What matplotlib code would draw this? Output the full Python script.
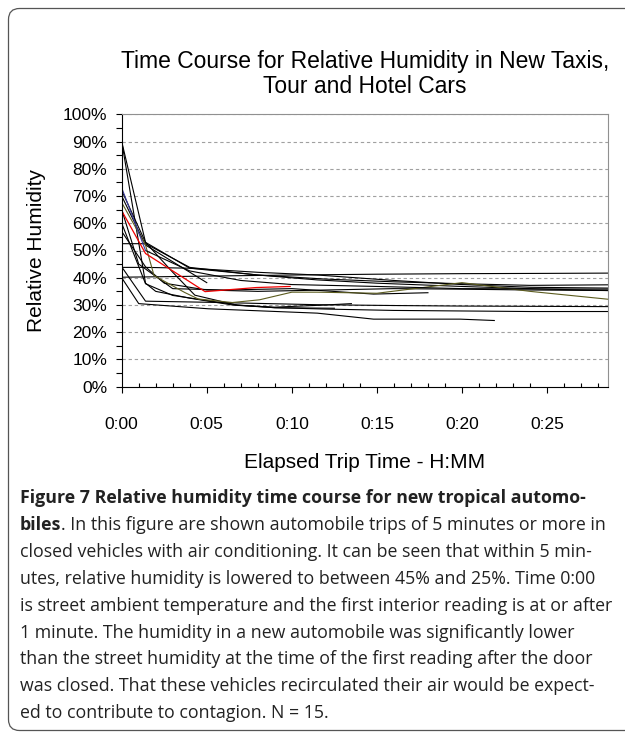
import matplotlib
matplotlib.use("Agg")
import matplotlib.pyplot as plt
from matplotlib.patches import FancyBboxPatch
from matplotlib.transforms import IdentityTransform
from matplotlib.ticker import MultipleLocator

W, H = 625, 732

# elapsed time in minutes, relative humidity in percent (15 trips)
trip_a_t = [0, 1.4, 5, 10, 15, 20, 25, 28.6]
trip_a_rh = [40.2, 40.3, 40.6, 41.0, 41.3, 41.5, 41.6, 41.7]
trip_b_t = [0, 1.4, 4, 8, 12, 16, 20, 24, 28.6]
trip_b_rh = [90, 53, 43.5, 41, 39.5, 38.5, 37.8, 37.2, 37.4]
trip_c_t = [0, 1.4, 2, 4, 6.5, 9, 12, 16, 20, 24, 28.6]
trip_c_rh = [90, 38, 35, 32.5, 30, 29, 28.5, 28, 27.8, 27.6, 27.6]
trip_e_t = [0, 1.4, 5]
trip_e_rh = [70, 52, 38.2]
trip_f_t = [0, 1.4, 4, 8, 11.5, 15, 20, 25, 28.6]
trip_f_rh = [52.5, 52.5, 43.8, 41, 39.2, 38, 36.8, 35.8, 35.3]
trip_g_t = [0, 1.4, 4, 8, 11.5, 16, 20, 24, 28.6]
trip_g_rh = [43.8, 43.8, 43.5, 42, 41, 39, 37.5, 36.5, 36.2]
trip_h_t = [0, 1, 5.1, 11.5, 14.8, 19.9, 21.9]
trip_h_rh = [40, 30.5, 28.6, 27, 24.8, 24.8, 24.3]
trip_i_t = [0, 1.4, 5, 11.5, 16, 20, 28.6]
trip_i_rh = [44, 31.4, 31, 30.1, 29.8, 29.6, 29.4]
trip_j_t = [0, 1.4, 3, 6.8, 9, 12.5]
trip_j_rh = [60, 37.8, 33.5, 30, 29, 28.8]
trip_k_t = [0, 1, 3, 6, 10, 14.8, 18]
trip_k_rh = [65, 45, 36, 35.5, 36, 34, 34.5]
trip_l_t = [0, 1.4, 3, 4.3, 6.8, 9, 12, 13.5]
trip_l_rh = [72, 53, 42, 33.6, 29.9, 29.2, 30, 30.5]
trip_m_t = [0, 1.4, 2.5, 5, 8, 12, 16, 20, 24, 28.6]
trip_m_rh = [57, 44, 38, 35.5, 35, 35.5, 36, 35.8, 35.5, 35.3]
blue_t = [0, 1.4, 4, 7, 10, 15, 20, 28.6]
blue_rh = [73, 50, 42.5, 39, 37.5, 36.8, 36, 35.8]
olive_t = [0, 1.4, 1.9, 3.7, 4.5, 6.5, 8.1, 10, 11.5, 15, 20, 24, 28.6]
olive_rh = [67.6, 52, 40.8, 34.6, 32.2, 30.9, 31.9, 34.7, 34.7, 34.3, 38.2, 35, 32.1]
red_t = [0, 1.4, 4.9, 7.9, 9.9]
red_rh = [64.6, 48.9, 34.9, 36.4, 36.8]

black_trips = [(trip_a_t, trip_a_rh), (trip_b_t, trip_b_rh), (trip_c_t, trip_c_rh),
               (trip_e_t, trip_e_rh), (trip_f_t, trip_f_rh), (trip_g_t, trip_g_rh),
               (trip_h_t, trip_h_rh), (trip_i_t, trip_i_rh), (trip_j_t, trip_j_rh),
               (trip_k_t, trip_k_rh), (trip_l_t, trip_l_rh), (trip_m_t, trip_m_rh)]

y_ticks = [0, 10, 20, 30, 40, 50, 60, 70, 80, 90, 100]
y_labels = ["0%", "10%", "20%", "30%", "40%", "50%", "60%", "70%", "80%", "90%", "100%"]
x_ticks = [0, 5, 10, 15, 20, 25]
x_labels = ["0:00", "0:05", "0:10", "0:15", "0:20", "0:25"]

title = "Time Course for Relative Humidity in New Taxis,\nTour and Hotel Cars"
caption_bold1 = "Figure 7 Relative humidity time course for new tropical automo-"
caption_bold2 = "biles"
caption_rest2 = ". In this figure are shown automobile trips of 5 minutes or more in"
caption_lines = [
    "closed vehicles with air conditioning. It can be seen that within 5 min-",
    "utes, relative humidity is lowered to between 45% and 25%. Time 0:00",
    "is street ambient temperature and the first interior reading is at or after",
    "1 minute. The humidity in a new automobile was significantly lower",
    "than the street humidity at the time of the first reading after the door",
    "was closed. That these vehicles recirculated their air would be expect-",
    "ed to contribute to contagion. N = 15.",
]

plt.rcParams['font.family'] = ['Liberation Sans', 'DejaVu Sans']


def fx(x):
    return x / W


def fy(y):
    return 1 - y / H


fig = plt.figure(figsize=(W / 100, H / 100), dpi=100)
ax = fig.add_axes([fx(121.7), fy(386.7), (608.3 - 121.7) / W, (386.7 - 114.3) / H])

for t, rh in black_trips:
    ax.plot(t, rh, color='black', lw=0.8)
ax.plot(olive_t, olive_rh, color='#5c5c1f', lw=0.8)
ax.plot(blue_t[1:], blue_rh[1:], color='black', lw=0.8)
ax.plot(blue_t[:2], blue_rh[:2], color='#3a3a9a', lw=0.8)
ax.plot(red_t, red_rh, color='#ee0000', lw=0.9)

ax.set_xlim(0, 28.6)
ax.set_ylim(0, 100)
ax.set_yticks(y_ticks)
ax.set_yticklabels(y_labels)
ax.yaxis.set_minor_locator(MultipleLocator(5))
ax.set_xticks(x_ticks)
ax.set_xticklabels(x_labels)
ax.xaxis.set_minor_locator(MultipleLocator(1))
ax.tick_params(axis='y', which='major', direction='out', length=4.5, width=0.8, pad=6, labelsize=12.5)
ax.tick_params(axis='y', which='minor', direction='out', length=4, width=0.8)
ax.tick_params(axis='x', which='major', direction='out', length=4.5, width=0.8, pad=17, labelsize=12.5)
ax.tick_params(axis='x', which='minor', direction='in', length=3, width=0.8)

for y in y_ticks[1:]:
    ax.axhline(y, color='#a0a0a0', lw=0.8, ls=(0, (3, 2.5)), zorder=0)
ax.spines['left'].set_color('black')
ax.spines['bottom'].set_color('black')
ax.spines['top'].set_color('#909090')
ax.spines['right'].set_color('#909090')
for s in ax.spines.values():
    s.set_linewidth(0.8)

fig.text(fx(365), fy(74), title, ha='center', va='center', fontsize=16.5, linespacing=1.15)
fig.text(fx(37), fy(250), "Relative Humidity", rotation=90, ha='center', va='center', fontsize=15)
fig.text(fx(365), fy(463), "Elapsed Trip Time - H:MM", ha='center', va='center', fontsize=15)

# caption, fitted to the column width
cap_font = ['Open Sans', 'DejaVu Sans']
renderer = fig.canvas.get_renderer()


def text_width(s, size, weight='normal'):
    p = fig.text(0, 0, s, family=cap_font, fontsize=size, weight=weight)
    w = p.get_window_extent(renderer).width
    p.remove()
    return w


widest = max(text_width(s, 12) for s in caption_lines)
line2 = text_width(caption_bold2, 12, 'bold') + text_width(caption_rest2, 12)
cap_size = 12 * 588 / max(widest, line2)
bold_size = min(cap_size, cap_size * 590 / text_width(caption_bold1, cap_size, 'bold'))

line_y = [498 + 26.9 * i for i in range(9)]
cap_x = fx(20)
fig.text(cap_x, fy(line_y[0]), caption_bold1, family=cap_font, fontsize=bold_size,
         weight='bold', va='center', color='#222222')
b2 = fig.text(cap_x, fy(line_y[1]), caption_bold2, family=cap_font, fontsize=bold_size,
              weight='bold', va='center', color='#222222')
fig.add_artist(plt.Annotation(caption_rest2, xy=(1, 0), xycoords=b2, va='bottom', ha='left',
                              family=cap_font, fontsize=cap_size, color='#222222'))
for i, line in enumerate(caption_lines):
    fig.text(cap_x, fy(line_y[i + 2]), line, family=cap_font, fontsize=cap_size,
             va='center', color='#222222')

box = FancyBboxPatch((8.5, 1.5), 700, H - 10, boxstyle="round,pad=0,rounding_size=11",
                     transform=IdentityTransform(), fill=False, ec='#555555', lw=0.9)
fig.add_artist(box)

fig.savefig("out.png", dpi=100)
